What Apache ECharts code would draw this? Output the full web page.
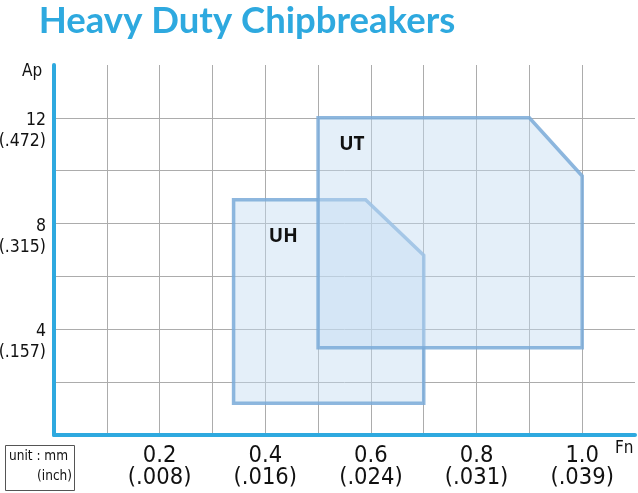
<!DOCTYPE html>
<html>
<head>
<meta charset="utf-8">
<script src="https://cdn.jsdelivr.net/npm/echarts@6/dist/echarts.min.js"></script>
<style>
html,body{margin:0;padding:0;background:#fff;}
#chart{width:638px;height:493px;}
</style>
</head>
<body>
<div id="chart"></div>
<script>
// ---- data ----
const titleText = 'Heavy Duty Chipbreakers';
const xTickValues = [0.2, 0.4, 0.6, 0.8, 1.0];
const xTickMm = ['0.2', '0.4', '0.6', '0.8', '1.0'];
const xTickInch = ['(.008)', '(.016)', '(.024)', '(.031)', '(.039)'];
const yTickValues = [4, 8, 12];
const yTickMm = ['4', '8', '12'];
const yTickInch = ['(.157)', '(.315)', '(.472)'];
const seriesNames = ['UH', 'UT'];
const uhFeed = [0.34, 0.59, 0.70, 0.70, 0.34];
const uhDepth = [8.9, 8.9, 6.8, 1.2, 1.2];
const utFeed = [0.50, 0.90, 1.00, 1.00, 0.50];
const utDepth = [12.0, 12.0, 9.8, 3.3, 3.3];
const uhLabelAt = [0.434, 7.5];
const utLabelAt = [0.564, 10.97];

const polygons = [
  {name: seriesNames[0], feed: uhFeed, depth: uhDepth, labelAt: uhLabelAt},
  {name: seriesNames[1], feed: utFeed, depth: utDepth, labelAt: utLabelAt}
];

const BLUE = '#2ea9df';
const FONT = '"DejaVu Sans Condensed", "Liberation Sans Narrow", Roboto, sans-serif';
const chart = echarts.init(document.getElementById('chart'), null, {renderer: 'canvas'});

function xLabel(v) {
  const i = xTickValues.findIndex(t => Math.abs(t - v) < 1e-6);
  return i < 0 ? '' : xTickMm[i] + '\n' + xTickInch[i];
}
function yLabel(v) {
  const i = yTickValues.findIndex(t => Math.abs(t - v) < 1e-6);
  return i < 0 ? '' : yTickMm[i] + '\n' + yTickInch[i];
}

const series = polygons.map(p => ({
  type: 'custom',
  name: p.name,
  coordinateSystem: 'cartesian2d',
  data: p.feed.map((f, i) => [f, p.depth[i]]),
  renderItem: function (params, api) {
    if (params.dataIndex !== 0) return null;
    const pts = p.feed.map((f, i) => api.coord([f, p.depth[i]]));
    const lp = api.coord(p.labelAt);
    return {
      type: 'group',
      children: [
        {
          type: 'polygon',
          shape: {points: pts},
          style: {fill: 'rgba(196,219,242,0.45)', stroke: 'rgba(122,170,216,0.85)', lineWidth: 3.5, lineJoin: 'miter'}
        },
        {
          type: 'text',
          x: lp[0], y: lp[1],
          style: {text: p.name, fill: '#111', font: 'bold 19px "Open Sans", sans-serif', align: 'center', verticalAlign: 'middle'}
        }
      ]
    };
  }
}));

chart.setOption({
  animation: false,
  backgroundColor: '#fff',
  title: {
    text: titleText,
    left: 242, top: -2, textAlign: 'center',
    textStyle: {color: BLUE, fontSize: 36.5, fontWeight: 'bold', fontFamily: 'Lato'}
  },
  grid: {left: 54, right: 3, top: 65, bottom: 58, containLabel: false, outerBoundsMode: 'none'},
  xAxis: {
    type: 'value', min: 0, max: 1.1, interval: 0.1,
    axisLine: {show: true, lineStyle: {color: BLUE, width: 4}},
    axisTick: {show: false},
    splitLine: {show: true, showMinLine: false, showMaxLine: false, lineStyle: {color: '#acacac', width: 1}},
    axisLabel: {
      formatter: xLabel, color: '#111', fontSize: 23.5, lineHeight: 22,
      fontFamily: FONT, margin: 10, showMaxLabel: false
    }
  },
  yAxis: {
    type: 'value', min: 0, max: 14, interval: 2,
    axisLine: {show: true, lineStyle: {color: BLUE, width: 4}},
    axisTick: {show: false},
    splitLine: {show: true, showMinLine: false, showMaxLine: false, lineStyle: {color: '#acacac', width: 1}},
    axisLabel: {
      formatter: yLabel, color: '#111', fontSize: 17.5, lineHeight: 21,
      fontFamily: FONT, margin: 8,
      verticalAlign: 'top', padding: [-8, 0, 0, 0], showMaxLabel: false
    }
  },
  graphic: [
    {type: 'text', left: 22, top: 63, style: {text: 'Ap', fill: '#111', font: '17px ' + FONT}},
    {type: 'text', left: 615, top: 440, style: {text: 'Fn', fill: '#111', font: '17px ' + FONT}},
    {type: 'rect', shape: {x: 5.5, y: 445.5, width: 69, height: 45}, style: {fill: '#fff', stroke: '#555', lineWidth: 1}},
    {type: 'text', left: 9, top: 449, style: {text: 'unit : mm', fill: '#111', font: '13.5px ' + FONT}},
    {type: 'text', right: 638 - 72, top: 469, style: {text: '(inch)', fill: '#111', font: '13.5px ' + FONT}}
  ],
  series: series
});
</script>
</body>
</html>
